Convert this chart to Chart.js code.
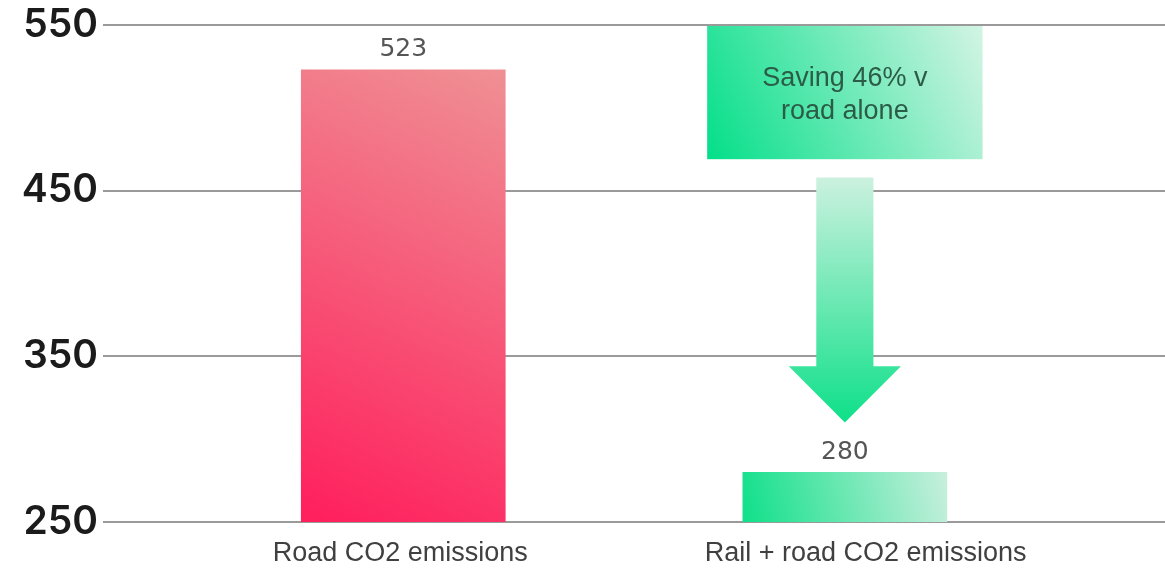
<!DOCTYPE html>
<html><head><meta charset="utf-8">
<script src="https://cdn.jsdelivr.net/npm/chart.js@4"></script>
<style>html,body{margin:0;padding:0;background:#fff;overflow:hidden;}</style>
</head><body>
<canvas id="c" width="1165" height="568"></canvas>
<script>
// ---- data ----
const categories = ['Road CO2 emissions', 'Rail + road CO2 emissions'];
const values = [523, 280];
const yTicks = [250, 350, 450, 550];
const calloutLines = ['Saving 46% v', 'road alone'];
const calloutBottomValue = 469;      // lower edge of the callout box (axis units)
const arrowValues = [458, 344, 310]; // arrow: top of shaft, start of head, tip

// ---- layout constants ----
const xMin = -0.68, xMax = 1.725;
const labelPositions = [-0.007, 1.047];

function hexGrad(ctx, x0, y0, x1, y1, c0, c1) {
  const g = ctx.createLinearGradient(x0, y0, x1, y1);
  g.addColorStop(0, c0); g.addColorStop(1, c1);
  return g;
}

function barColor(context) {
  const chart = context.chart;
  const area = chart.chartArea;
  const i = context.dataIndex;
  if (!area || !chart.scales.x || !chart.scales.y) return i === 0 ? '#f8476f' : '#5be8ad';
  const xs = chart.scales.x, ys = chart.scales.y;
  const cx = xs.getPixelForValue(i);
  const top = ys.getPixelForValue(values[i]);
  const bot = area.bottom;
  const half = 102;
  const c = chart.ctx;
  if (i === 0) {
    return hexGrad(c, cx + half, top, cx - half, bot, '#ef9094', '#ff1e5c');
  }
  return hexGrad(c, cx - half, bot, cx + half, top, '#0fe089', '#c8efdd');
}

const overlay = {
  id: 'overlay',
  afterDatasetsDraw(chart) {
    const { ctx, scales: { x, y } } = chart;
    const meta = chart.getDatasetMeta(0);
    ctx.save();
    // value labels
    ctx.font = '400 25px "DejaVu Sans"';
    ctx.fillStyle = '#555';
    ctx.textAlign = 'center';
    ctx.textBaseline = 'middle';
    meta.data.forEach((bar, i) => {
      ctx.fillText(String(values[i]), bar.x, bar.y - 20);
    });
    // callout box above the second bar
    const bar = meta.data[1];
    const cx = bar.x;
    const bw = bar.width;
    const half = bw * 0.675;
    const top = y.getPixelForValue(y.max) + 1;
    const bot = y.getPixelForValue(calloutBottomValue);
    ctx.fillStyle = hexGrad(ctx, cx - half, bot, cx + half, top, '#03df89', '#d3f4e4');
    ctx.fillRect(cx - half, top, half * 2, bot - top);
    ctx.fillStyle = '#2b5c47';
    ctx.font = '400 27px "Liberation Sans"';
    const mid = (top + bot) / 2;
    ctx.fillText(calloutLines[0], cx, mid - 14);
    ctx.fillText(calloutLines[1], cx, mid + 19);
    // arrow
    const aTop = y.getPixelForValue(arrowValues[0]);
    const aHead = y.getPixelForValue(arrowValues[1]);
    const aTip = y.getPixelForValue(arrowValues[2]);
    const sh = bw * 0.14, hh = bw * 0.275;
    ctx.beginPath();
    ctx.moveTo(cx - sh, aTop);
    ctx.lineTo(cx + sh, aTop);
    ctx.lineTo(cx + sh, aHead);
    ctx.lineTo(cx + hh, aHead);
    ctx.lineTo(cx, aTip);
    ctx.lineTo(cx - hh, aHead);
    ctx.lineTo(cx - sh, aHead);
    ctx.closePath();
    ctx.fillStyle = hexGrad(ctx, cx, aTop, cx, aTip, '#ccf1df', '#0ee089');
    ctx.fill();
    ctx.restore();
  }
};

new Chart(document.getElementById('c'), {
  type: 'bar',
  data: {
    datasets: [{
      data: values.map((v, i) => ({ x: i, y: v })),
      backgroundColor: barColor,
      borderWidth: 0,
      barThickness: 204
    }]
  },
  options: {
    responsive: false,
    animation: false,
    devicePixelRatio: 1,
    layout: { padding: { top: 25, left: 0, right: 0, bottom: 0 } },
    plugins: { legend: { display: false }, tooltip: { enabled: false } },
    scales: {
      x: {
        type: 'linear',
        min: xMin, max: xMax,
        offset: false,
        bounds: 'ticks',
        grid: { display: false, offset: false },
        border: { display: false },
        afterBuildTicks: (s) => { s.ticks = labelPositions.map(v => ({ value: v })); },
        afterFit: (s) => { s.height = 46; },
        ticks: {
          autoSkip: false, maxRotation: 0, padding: 10,
          color: '#404040',
          font: { family: '"Liberation Sans"', size: 27, lineHeight: 1 },
          callback: (v, i) => categories[i]
        }
      },
      y: {
        min: 250, max: 550,
        afterBuildTicks: (s) => { s.ticks = yTicks.map(v => ({ value: v })); },
        afterFit: (s) => { s.width = 103; },
        grid: { color: '#9a9a9a', lineWidth: 2, drawTicks: false },
        border: { display: false },
        ticks: {
          padding: 5,
          color: '#1b1b1b',
          font: { family: 'Inter', size: 39, weight: '600', lineHeight: 0.9 }
        }
      }
    }
  },
  plugins: [overlay]
});
</script>
</body></html>
